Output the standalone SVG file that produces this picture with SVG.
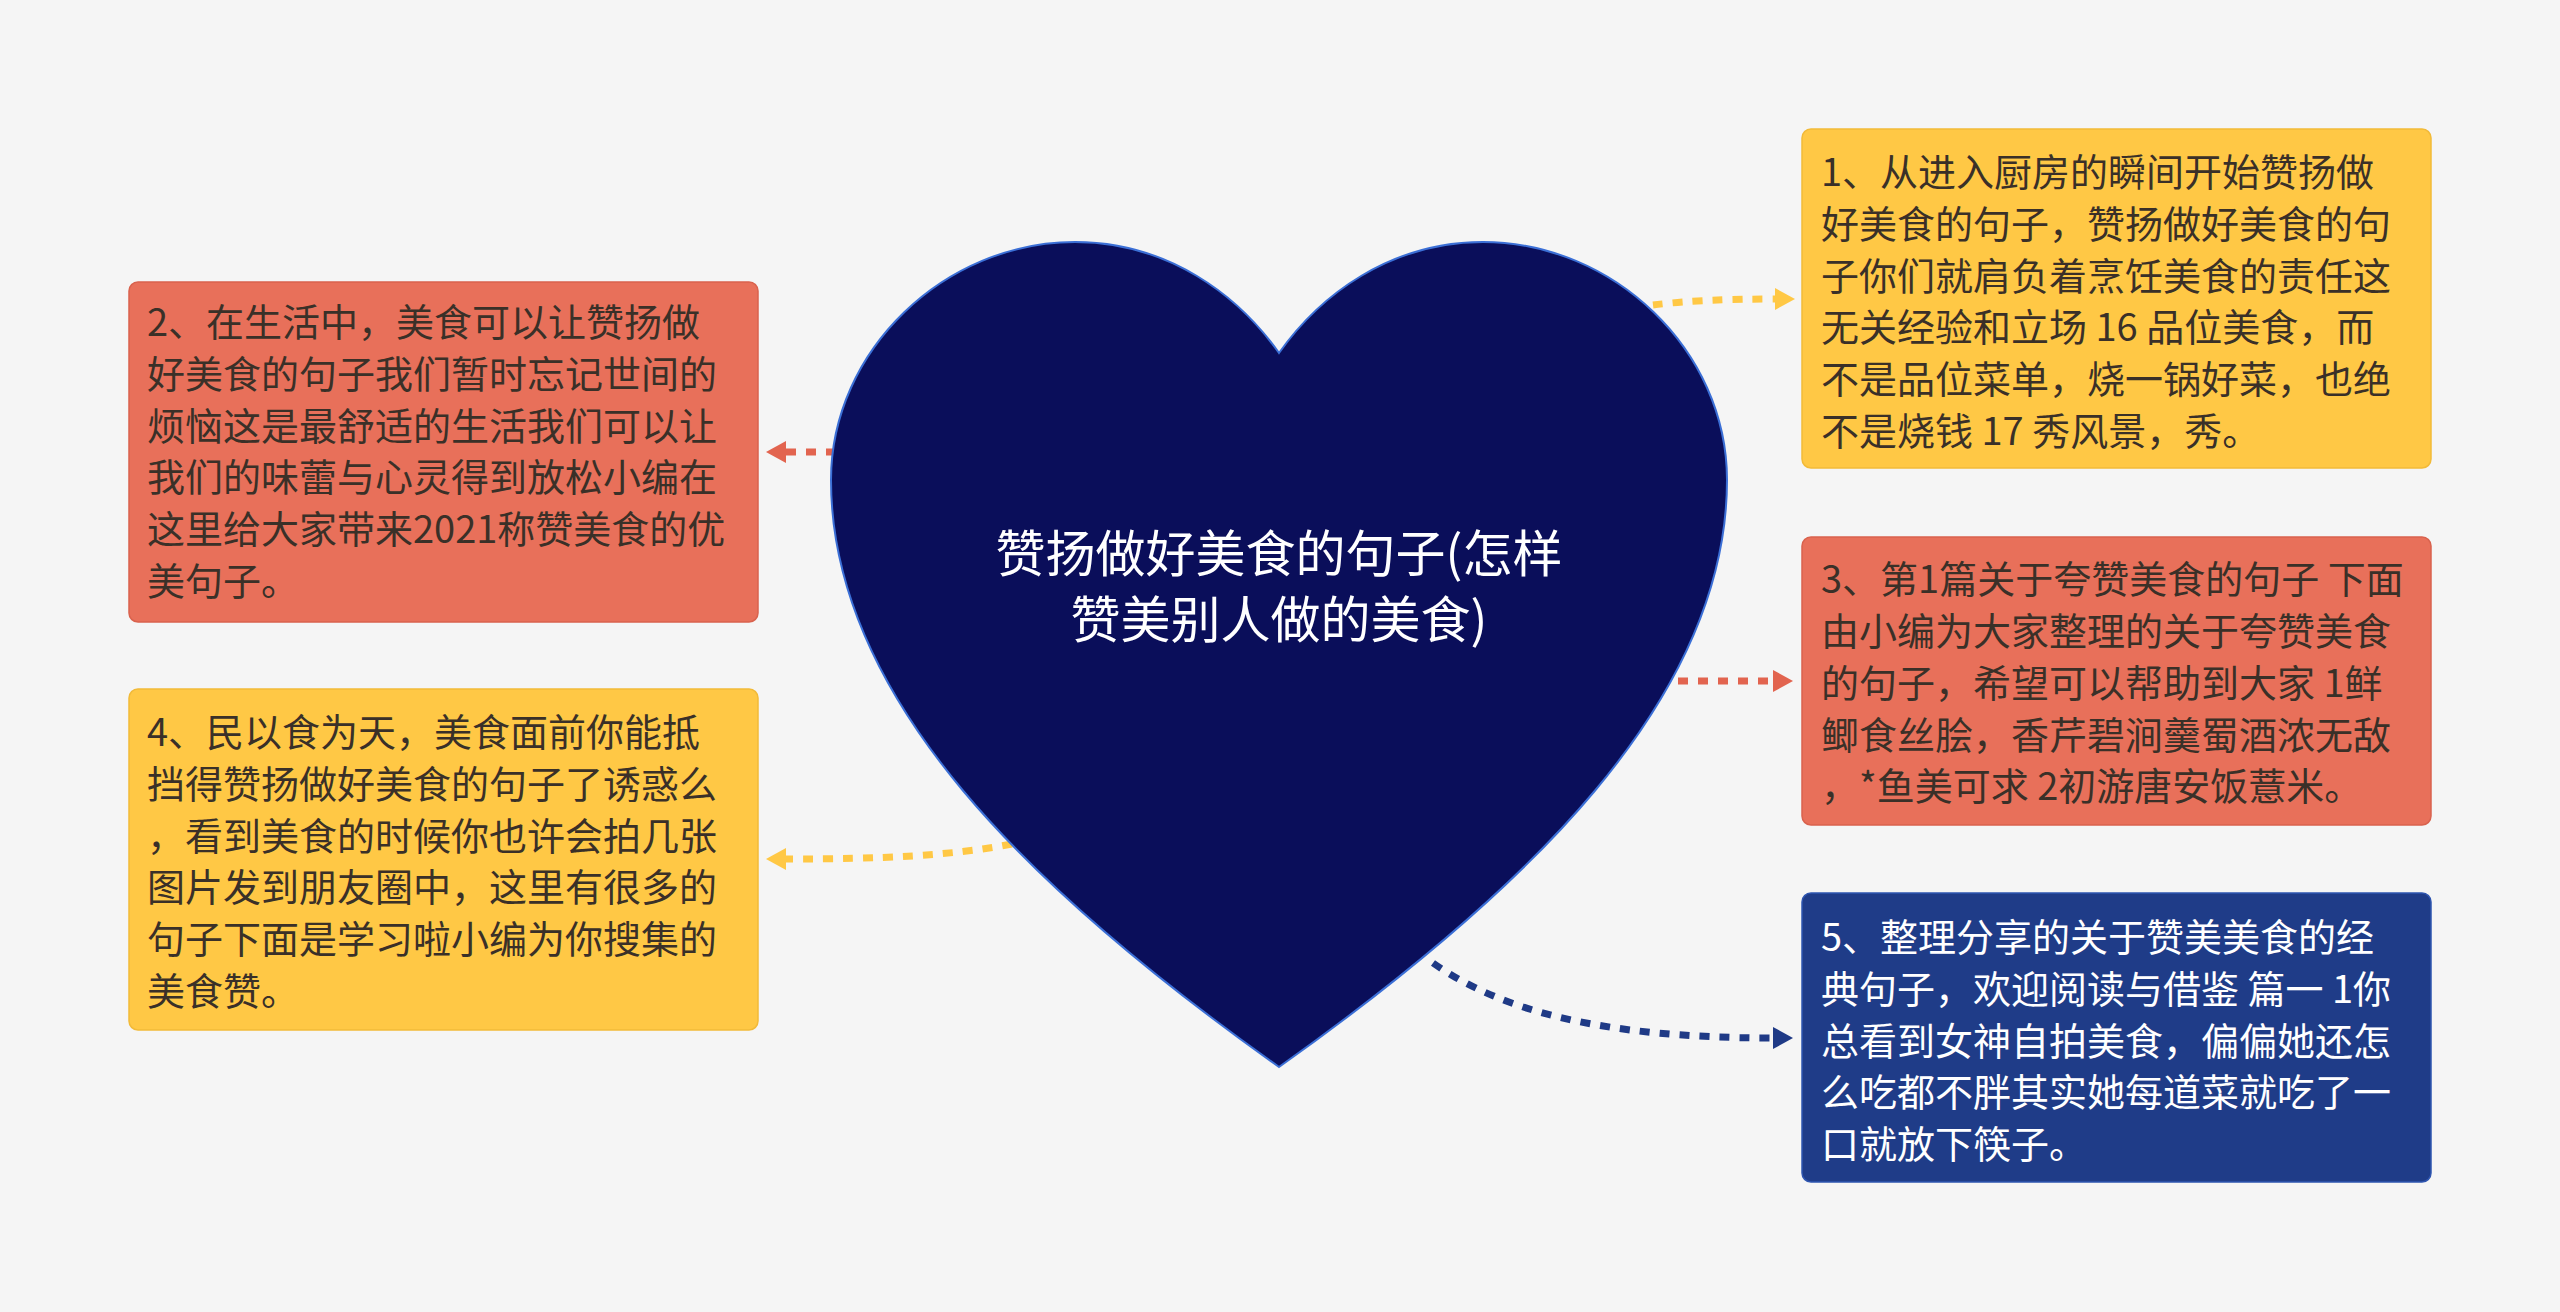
<svg xmlns="http://www.w3.org/2000/svg" width="2560" height="1312" viewBox="0 0 2560 1312">
<defs>
<style>
.box-text{font-family:"Noto Sans CJK SC","Noto Sans",sans-serif;font-size:38px;fill:#3a3028;}
.box-text.light{fill:#ffffff;}
.title{font-family:"Noto Sans CJK SC","Noto Sans",sans-serif;font-size:50px;fill:#ffffff;text-anchor:middle;}
.conn{fill:none;stroke-width:7;stroke-dasharray:10 10;}
.red{fill:#E8705A;stroke:#D9624D;stroke-width:1.5;}
.yellow{fill:#FFC845;stroke:#F2BA38;stroke-width:1.5;}
.blue{fill:#1F3C88;stroke:#2E55B0;stroke-width:1.5;}
</style>
<marker id="arr-y" viewBox="0 0 20 22" refX="0" refY="11" markerWidth="20" markerHeight="22" markerUnits="userSpaceOnUse" orient="auto"><path d="M0,0 L20,11 L0,22 z" fill="#FFC845"/></marker>
<marker id="arr-r" viewBox="0 0 20 22" refX="0" refY="11" markerWidth="20" markerHeight="22" markerUnits="userSpaceOnUse" orient="auto"><path d="M0,0 L20,11 L0,22 z" fill="#E2644F"/></marker>
<marker id="arr-b" viewBox="0 0 20 22" refX="0" refY="11" markerWidth="20" markerHeight="22" markerUnits="userSpaceOnUse" orient="auto"><path d="M0,0 L20,11 L0,22 z" fill="#1F3A86"/></marker>
</defs>
<rect x="0" y="0" width="2560" height="1312" fill="#F5F5F5"/>

<g id="connectors">
<path class="conn" stroke="#FFC845" marker-end="url(#arr-y)" d="M1653,305 Q1700,299 1775,299"/>
<path class="conn" stroke="#E2644F" marker-end="url(#arr-r)" d="M836,452 L786,452"/>
<path class="conn" stroke="#E2644F" marker-end="url(#arr-r)" d="M1678,681 L1773,681"/>
<path class="conn" stroke="#FFC845" marker-end="url(#arr-y)" d="M1012,844 C950,856 880,859 786,859"/>
<path class="conn" stroke="#1F3A86" marker-end="url(#arr-b)" d="M1433,963 C1500,1010 1600,1038 1773,1038"/>
</g>

<g id="center">
<path d="M1279,353 C1320,295 1390,242 1483,242 C1613,242 1727,350 1727,480 C1727,700 1524,893 1279,1067 C1034,893 831,700 831,480 C831,350 945,242 1075,242 C1168,242 1238,295 1279,353 Z" fill="#0A0E5A" stroke="#3B6FD6" stroke-width="2"/>
<text class="title" x="1279" y="572">赞扬做好美食的句子(怎样</text>
<text class="title" x="1279" y="638">赞美别人做的美食)</text>
</g>

<g id="node1">
<rect class="yellow" x="1802" y="129" width="629" height="339" rx="9"/>
<text class="box-text" x="1821" y="186">1、从进入厨房的瞬间开始赞扬做</text>
<text class="box-text" x="1821" y="238">好美食的句子，赞扬做好美食的句</text>
<text class="box-text" x="1821" y="290">子你们就肩负着烹饪美食的责任这</text>
<text class="box-text" x="1821" y="341">无关经验和立场 16 品位美食，而</text>
<text class="box-text" x="1821" y="393">不是品位菜单，烧一锅好菜，也绝</text>
<text class="box-text" x="1821" y="445">不是烧钱 17 秀风景，秀。</text>
</g>

<g id="node2">
<rect class="red" x="129" y="282" width="629" height="340" rx="9"/>
<text class="box-text" x="147" y="336">2、在生活中，美食可以让赞扬做</text>
<text class="box-text" x="147" y="388">好美食的句子我们暂时忘记世间的</text>
<text class="box-text" x="147" y="440">烦恼这是最舒适的生活我们可以让</text>
<text class="box-text" x="147" y="491">我们的味蕾与心灵得到放松小编在</text>
<text class="box-text" x="147" y="543">这里给大家带来2021称赞美食的优</text>
<text class="box-text" x="147" y="595">美句子。</text>
</g>

<g id="node3">
<rect class="red" x="1802" y="537" width="629" height="288" rx="9"/>
<text class="box-text" x="1821" y="593">3、第1篇关于夸赞美食的句子 下面</text>
<text class="box-text" x="1821" y="645">由小编为大家整理的关于夸赞美食</text>
<text class="box-text" x="1821" y="697">的句子，希望可以帮助到大家 1鲜</text>
<text class="box-text" x="1821" y="749">鲫食丝脍，香芹碧涧羹蜀酒浓无敌</text>
<text class="box-text" x="1821" y="800">，*鱼美可求 2初游唐安饭薏米。</text>
</g>

<g id="node4">
<rect class="yellow" x="129" y="689" width="629" height="341" rx="9"/>
<text class="box-text" x="147" y="746">4、民以食为天，美食面前你能抵</text>
<text class="box-text" x="147" y="798">挡得赞扬做好美食的句子了诱惑么</text>
<text class="box-text" x="147" y="850">，看到美食的时候你也许会拍几张</text>
<text class="box-text" x="147" y="901">图片发到朋友圈中，这里有很多的</text>
<text class="box-text" x="147" y="953">句子下面是学习啦小编为你搜集的</text>
<text class="box-text" x="147" y="1005">美食赞。</text>
</g>

<g id="node5">
<rect class="blue" x="1802" y="893" width="629" height="289" rx="9"/>
<text class="box-text light" x="1821" y="951">5、整理分享的关于赞美美食的经</text>
<text class="box-text light" x="1821" y="1003">典句子，欢迎阅读与借鉴 篇一 1你</text>
<text class="box-text light" x="1821" y="1055">总看到女神自拍美食，偏偏她还怎</text>
<text class="box-text light" x="1821" y="1106">么吃都不胖其实她每道菜就吃了一</text>
<text class="box-text light" x="1821" y="1158">口就放下筷子。</text>
</g>
</svg>
